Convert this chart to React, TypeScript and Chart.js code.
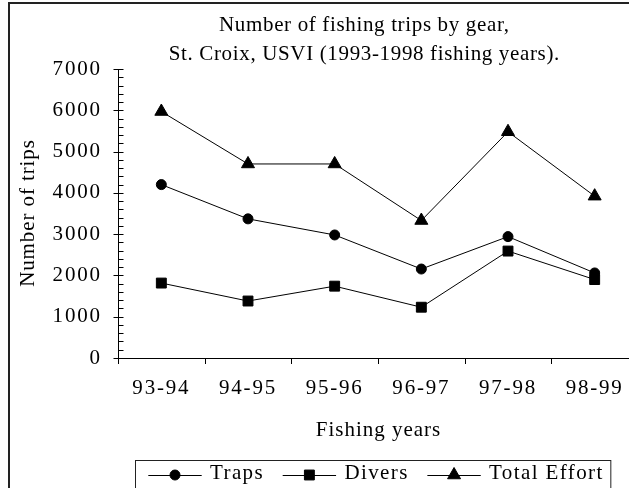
import React, { useEffect, useRef } from "react";
import { Chart, registerables } from "chart.js";
import { drawPoint } from "chart.js/helpers";

Chart.register(...registerables);

// Fishing years on the category axis
const fishingYears = ["93-94", "94-95", "95-96", "96-97", "97-98", "98-99"];

// Number of trips per gear type
const trapsTrips = [4200, 3370, 2980, 2155, 2940, 2060];
const diversTrips = [1815, 1380, 1740, 1230, 2590, 1900];
const totalEffortTrips = [5970, 4700, 4700, 3330, 5480, 3920];

const seriesNames = ["Traps", "Divers", "Total Effort"];
const seriesMarkers = ["circle", "rect", "triangle"];
const seriesMarkerRadius = [5, 7, 7.5];

const chartTitle = [
  "Number of fishing trips by gear,",
  "St. Croix, USVI (1993-1998 fishing years).",
];
const yAxisTitle = "Number of trips";
const xAxisTitle = "Fishing years";

// Value axis range and tick steps
const yMin = 0;
const yMax = 7000;
const yMajorStep = 1000;
const yMinorStep = 200;

const FONT = "'Liberation Serif', 'Times New Roman', serif";
const FONT_SIZE = 21;
const TICK_SPACING = 1.8;

const CANVAS_W = 710;
const CANVAS_H = 484;
const Y_AXIS_W = 108;
const X_AXIS_H = 83;

function spacedText(
  ctx: CanvasRenderingContext2D,
  text: string,
  x: number,
  y: number,
  align: "left" | "center" | "right",
  spacing: number
): number {
  (ctx as any).letterSpacing = spacing + "px";
  const w = ctx.measureText(text).width - spacing;
  let sx = x;
  if (align === "center") sx = x - w / 2;
  else if (align === "right") sx = x - w;
  ctx.textAlign = "left";
  ctx.fillText(text, sx, y);
  return w;
}

// Crossing tick marks, titles and the boxed legend
const decorPlugin = {
  id: "decor",
  beforeUpdate(chart: any) {
    chart.ctx.letterSpacing = TICK_SPACING + "px";
  },
  beforeDraw(chart: any) {
    chart.ctx.letterSpacing = TICK_SPACING + "px";
  },
  afterDraw(chart: any) {
    const { ctx, chartArea } = chart;
    const xs = chart.scales.x;
    const ys = chart.scales.y;

    ctx.save();
    ctx.strokeStyle = "#000";
    ctx.fillStyle = "#000";
    ctx.lineWidth = 1;

    // value axis: major ticks cross the axis, minor ticks point inward
    ctx.beginPath();
    const ax = Math.round(chartArea.left) + 0.5;
    for (let v = yMin; v <= yMax; v += yMinorStep) {
      const py = Math.round(ys.getPixelForValue(v)) + 0.5;
      const major = v % yMajorStep === 0;
      ctx.moveTo(major ? ax - 5 : ax, py);
      ctx.lineTo(ax + 5, py);
    }
    // category axis: ticks between categories
    const n = fishingYears.length;
    const half = (xs.getPixelForValue(1) - xs.getPixelForValue(0)) / 2;
    const by = Math.round(chartArea.bottom);
    for (let i = 0; i <= n; i++) {
      const c = i < n ? xs.getPixelForValue(i) - half : xs.getPixelForValue(n - 1) + half;
      const px = Math.round(c) + 0.5;
      ctx.moveTo(px, by);
      ctx.lineTo(px, by + 6);
    }
    ctx.stroke();

    ctx.textBaseline = "alphabetic";

    // chart title
    ctx.font = `${FONT_SIZE}px ${FONT}`;
    const tcx = chart.width / 2 - 1;
    spacedText(ctx, chartTitle[0], tcx, 26.7, "center", 0.65);
    spacedText(ctx, chartTitle[1], tcx, 56, "center", 0.65);

    // axis titles
    const midY = (chartArea.top + chartArea.bottom) / 2;
    ctx.save();
    ctx.translate(24, midY);
    ctx.rotate(-Math.PI / 2);
    spacedText(ctx, yAxisTitle, 0, 0, "center", 0.9);
    ctx.restore();
    const midX = (chartArea.left + chartArea.right) / 2;
    spacedText(ctx, xAxisTitle, midX, 431.7, "center", 1.0);

    // legend
    const boxLeft = 125;
    const boxTop = 455.5;
    const markerY = 471;
    const lineLen = 53.4;
    let cx = boxLeft + 13.3;
    let lastEnd = cx;
    chart.data.datasets.forEach((ds: any) => {
      ctx.beginPath();
      ctx.moveTo(cx, markerY + 0.5);
      ctx.lineTo(cx + lineLen, markerY + 0.5);
      ctx.stroke();
      drawPoint(
        ctx,
        { pointStyle: ds.pointStyle, radius: ds.pointRadius, borderWidth: 1, rotation: 0 } as any,
        cx + lineLen / 2,
        markerY
      );
      const tx = cx + lineLen + 8.3;
      const w = spacedText(ctx, ds.label, tx, 475, "left", 1.4);
      lastEnd = tx + w;
      cx = tx + w + 20;
    });
    (ctx as any).letterSpacing = "0px";
    ctx.strokeStyle = "#222";
    ctx.strokeRect(boxLeft + 0.5, Math.round(boxTop) + 0.5, lastEnd + 8 - boxLeft, 200);

    ctx.restore();
  },
};

export default function App() {
  const canvasRef = useRef<HTMLCanvasElement>(null);

  useEffect(() => {
    const seriesData = [trapsTrips, diversTrips, totalEffortTrips];
    const chart = new Chart(canvasRef.current!, {
      type: "line",
      data: {
        labels: fishingYears,
        datasets: seriesNames.map((name, i) => ({
          label: name,
          data: seriesData[i],
          borderColor: "#000",
          backgroundColor: "#000",
          borderWidth: 1,
          pointStyle: seriesMarkers[i] as any,
          pointRadius: seriesMarkerRadius[i],
          pointBorderWidth: 1,
          pointBackgroundColor: "#000",
          pointBorderColor: "#000",
          tension: 0,
          fill: false,
        })),
      },
      options: {
        responsive: false,
        animation: false,
        events: [],
        layout: {
          padding: {
            left: 0,
            top: 65,
            right: CANVAS_W - 628,
            bottom: CANVAS_H - 354 - X_AXIS_H,
          },
        },
        plugins: {
          legend: { display: false },
          title: { display: false },
          tooltip: { enabled: false },
        },
        scales: {
          x: {
            type: "category",
            offset: true,
            grid: { display: false, drawTicks: false },
            border: { display: true, color: "#000", width: 1 },
            ticks: {
              color: "#000",
              font: { family: FONT, size: FONT_SIZE },
              padding: 18,
              maxRotation: 0,
              autoSkip: false,
            },
            afterFit: (scale: any) => {
              scale.height = X_AXIS_H;
            },
          },
          y: {
            min: yMin,
            max: yMax,
            grid: { display: false, drawTicks: false },
            border: { display: true, color: "#000", width: 1 },
            ticks: {
              stepSize: yMajorStep,
              color: "#000",
              font: { family: FONT, size: FONT_SIZE },
              padding: 16.2,
              callback: (value: any) => String(value),
            },
            afterFit: (scale: any) => {
              scale.width = Y_AXIS_W;
            },
          },
        },
      },
      plugins: [decorPlugin],
    });
    return () => chart.destroy();
  }, []);

  return (
    <div
      style={{
        position: "fixed",
        left: 0,
        top: 0,
        width: 629,
        height: 488,
        overflow: "hidden",
        background: "#fff",
      }}
    >
      <div
        style={{
          position: "absolute",
          left: 8,
          top: 2,
          width: 760,
          height: 600,
          border: "2px solid #222",
          boxSizing: "border-box",
        }}
      />
      <canvas
        ref={canvasRef}
        width={CANVAS_W}
        height={CANVAS_H}
        style={{ position: "absolute", left: 10, top: 4 }}
      />
    </div>
  );
}
